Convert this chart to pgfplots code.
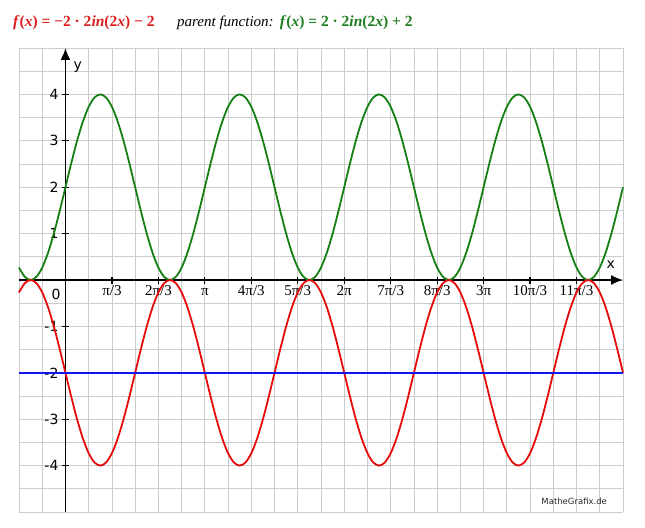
\documentclass[border=0pt]{standalone}
\usepackage{fontspec}
\setmainfont{Liberation Serif}
\newfontfamily\vsans{DejaVu Sans}
\usepackage{pgfplots}
\pgfplotsset{compat=1.18}
\usepackage{pgfplotstable}
\usetikzlibrary{arrows.meta}

\definecolor{cred}{RGB}{230,10,10}
\definecolor{cgreen}{RGB}{20,128,20}
\definecolor{cblue}{RGB}{20,20,240}
\definecolor{tred}{RGB}{220,30,30}
\definecolor{tgreen}{RGB}{30,125,30}

% k = x in steps of pi/24, g = parent (green), r = reflected (red)
\pgfplotstableread[row sep=\\]{
k g r\\
-8 0.2679 -0.2679\\ -7 0.0681 -0.0681\\ -6 0 0\\ -5 0.0681 -0.0681\\ -4 0.2679 -0.2679\\ -3 0.5858 -0.5858\\ -2 1 -1\\ -1 1.4824 -1.4824\\
0 2 -2\\ 1 2.5176 -2.5176\\ 2 3 -3\\ 3 3.4142 -3.4142\\ 4 3.7321 -3.7321\\ 5 3.9319 -3.9319\\ 6 4 -4\\ 7 3.9319 -3.9319\\ 8 3.7321 -3.7321\\ 9 3.4142 -3.4142\\ 10 3 -3\\ 11 2.5176 -2.5176\\
12 2 -2\\ 13 1.4824 -1.4824\\ 14 1 -1\\ 15 0.5858 -0.5858\\ 16 0.2679 -0.2679\\ 17 0.0681 -0.0681\\ 18 0 0\\ 19 0.0681 -0.0681\\ 20 0.2679 -0.2679\\ 21 0.5858 -0.5858\\ 22 1 -1\\ 23 1.4824 -1.4824\\
24 2 -2\\ 25 2.5176 -2.5176\\ 26 3 -3\\ 27 3.4142 -3.4142\\ 28 3.7321 -3.7321\\ 29 3.9319 -3.9319\\ 30 4 -4\\ 31 3.9319 -3.9319\\ 32 3.7321 -3.7321\\ 33 3.4142 -3.4142\\ 34 3 -3\\ 35 2.5176 -2.5176\\
36 2 -2\\ 37 1.4824 -1.4824\\ 38 1 -1\\ 39 0.5858 -0.5858\\ 40 0.2679 -0.2679\\ 41 0.0681 -0.0681\\ 42 0 0\\ 43 0.0681 -0.0681\\ 44 0.2679 -0.2679\\ 45 0.5858 -0.5858\\ 46 1 -1\\ 47 1.4824 -1.4824\\
48 2 -2\\ 49 2.5176 -2.5176\\ 50 3 -3\\ 51 3.4142 -3.4142\\ 52 3.7321 -3.7321\\ 53 3.9319 -3.9319\\ 54 4 -4\\ 55 3.9319 -3.9319\\ 56 3.7321 -3.7321\\ 57 3.4142 -3.4142\\ 58 3 -3\\ 59 2.5176 -2.5176\\
60 2 -2\\ 61 1.4824 -1.4824\\ 62 1 -1\\ 63 0.5858 -0.5858\\ 64 0.2679 -0.2679\\ 65 0.0681 -0.0681\\ 66 0 0\\ 67 0.0681 -0.0681\\ 68 0.2679 -0.2679\\ 69 0.5858 -0.5858\\ 70 1 -1\\ 71 1.4824 -1.4824\\
72 2 -2\\ 73 2.5176 -2.5176\\ 74 3 -3\\ 75 3.4142 -3.4142\\ 76 3.7321 -3.7321\\ 77 3.9319 -3.9319\\ 78 4 -4\\ 79 3.9319 -3.9319\\ 80 3.7321 -3.7321\\ 81 3.4142 -3.4142\\ 82 3 -3\\ 83 2.5176 -2.5176\\
84 2 -2\\ 85 1.4824 -1.4824\\ 86 1 -1\\ 87 0.5858 -0.5858\\ 88 0.2679 -0.2679\\ 89 0.0681 -0.0681\\ 90 0 0\\ 91 0.0681 -0.0681\\ 92 0.2679 -0.2679\\ 93 0.5858 -0.5858\\ 94 1 -1\\ 95 1.4824 -1.4824\\
96 2 -2\\
}\curves

\begin{document}
\begin{tikzpicture}
\begin{axis}[
    scale only axis,
    width=604pt, height=464pt,
    xmin=-8, xmax=96, ymin=-5, ymax=5,
    axis lines=middle,
    axis line style={line width=1.8pt, black},
    x axis line style={-{Latex[length=12pt,width=10pt]}},
    y axis line style={-{Latex[length=12pt,width=10pt]}},
    xtick={8,16,...,88},
    xticklabels={π/3, 2π/3, π, 4π/3, 5π/3, 2π, 7π/3, 8π/3, 3π, 10π/3, 11π/3},
    ytick={-4,-3,-2,-1,1,2,3,4},
    yticklabels={-4,-3,-2,-1,1,2,3,4},
    minor xtick={-8,-4,...,96},
    minor ytick={-5,-4.5,...,5},
    grid=both,
    major grid style={gray!40, line width=0.7pt},
    minor grid style={gray!40, line width=0.7pt},
    tick align=center, major tick length=7pt, minor tick length=0pt,
    tick style={black, line width=1.3pt},
    xticklabel style={font=\fontsize{15}{17}\selectfont, yshift=-1pt,
      text height=0.7em, text depth=0.2em},
    yticklabel style={font=\vsans\fontsize{14}{16}\selectfont},
    clip=false,
]
\addplot[cgreen, line width=1.8pt, smooth] table[x=k, y=g] {\curves};
\addplot[cred, line width=1.8pt, smooth] table[x=k, y=r] {\curves};
\addplot[cblue, line width=1.8pt] coordinates {(-8,-2) (96,-2)};

\node[font=\vsans\fontsize{14}{16}\selectfont] at (axis cs:93.9,0.32) {x};
\node[font=\vsans\fontsize{14}{16}\selectfont] at (axis cs:2.1,4.59) {y};
\node[font=\vsans\fontsize{14}{16}\selectfont] at (axis cs:-1.6,-0.32) {0};
\node[font=\vsans\fontsize{8.5}{10}\selectfont, text=black!85] at (axis cs:87.6,-4.78) {MatheGrafix.de};

\node[anchor=base west, inner sep=0, text=tred, font=\fontsize{15.5}{18}\selectfont\bfseries]
  at (axis cs:-9.04,5.47) {\textit{f}(\textit{x}) = −2 · 2\textit{in}(2\textit{x}) − 2};
\node[anchor=base west, inner sep=0, font=\fontsize{15}{18}\selectfont\itshape]
  at (axis cs:19.2,5.47) {parent function:};
\node[anchor=base west, inner sep=0, text=tgreen, font=\fontsize{15.5}{18}\selectfont\bfseries]
  at (axis cs:36.9,5.47) {\textit{f}(\textit{x}) = 2 · 2\textit{in}(2\textit{x}) + 2};
\end{axis}
\path (current axis.south west) ++(-19pt,-15pt) coordinate (bbA);
\path (current axis.north east) ++(22pt,48pt) coordinate (bbB);
\path (bbA) rectangle (bbB);
\end{tikzpicture}
\end{document}
